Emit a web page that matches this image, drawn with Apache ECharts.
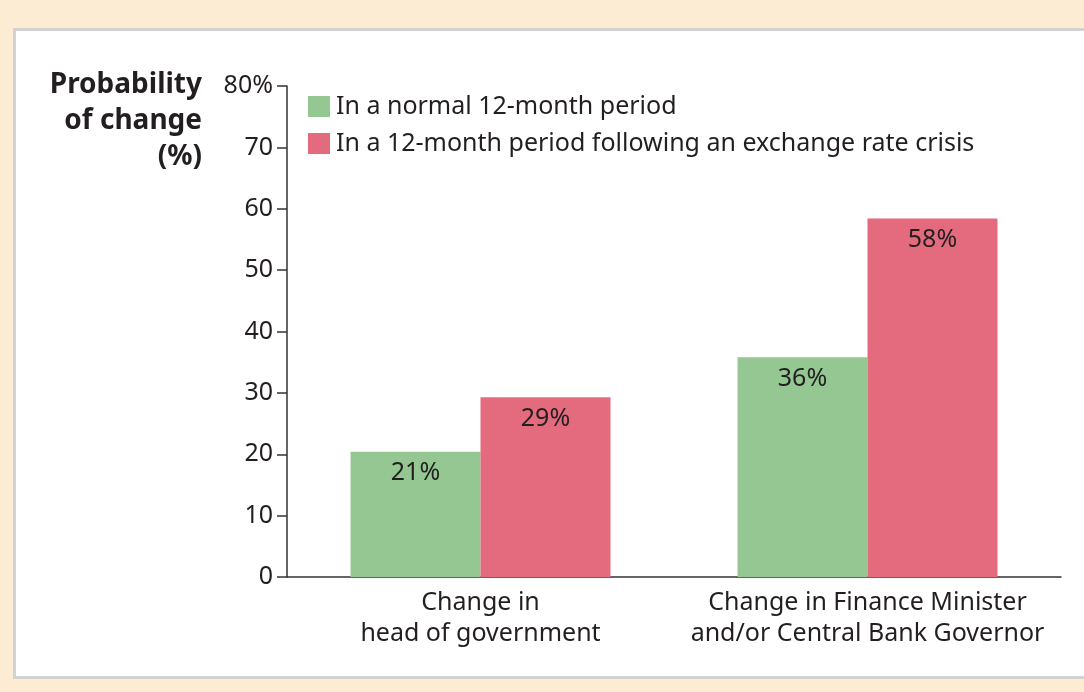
<html>
  <head>
    <meta charset="utf-8" />
    <title>Probability of change</title>
    <script src="https://cdn.jsdelivr.net/npm/echarts@6/dist/echarts.min.js"></script>
    <style>
      body { margin: 0; background: #fcecd3; }
      #panel { position: absolute; left: 13px; top: 28px; width: 1090px; height: 645px;
               background: #fff; border: 3px solid #d2d2d2; }
      #main { position: absolute; left: 0; top: 0; width: 1084px; height: 692px; }
    </style>
  </head>
  <body>
    <div id="panel"></div>
    <div id="main"></div>
    <script type="text/javascript">
      var categories = ['Change in\nhead of government', 'Change in Finance Minister\nand/or Central Bank Governor'];
      var seriesNames = ['In a normal 12-month period', 'In a 12-month period following an exchange rate crisis'];
      var normalValues = [20.4, 35.8];
      var crisisValues = [29.3, 58.4];
      var normalLabels = ['21%', '36%'];
      var crisisLabels = ['29%', '58%'];
      var yTicks = [0, 10, 20, 30, 40, 50, 60, 70, 80];

      var FONT = '"Noto Sans", sans-serif';
      var myChart = echarts.init(document.getElementById('main'));

      function barLabel(labels) {
        return {
          show: true,
          position: 'insideTop',
          distance: 9,
          color: '#231f20',
          fontSize: 25,
          fontFamily: FONT,
          formatter: function (p) { return labels[p.dataIndex]; }
        };
      }

      var option = {
        animation: false,
        textStyle: { fontFamily: FONT },
        grid: { left: 287, right: 23, top: 86, bottom: 115 },
        legend: {
          left: 303, top: 89, orient: 'vertical', icon: 'rect',
          itemWidth: 22, itemHeight: 21, itemGap: 12,
          textStyle: { fontSize: 25, color: '#231f20', fontFamily: FONT, padding: [0, 0, 0, 1] },
          data: seriesNames
        },
        graphic: [{
          type: 'text', x: 202, y: 67,
          style: {
            text: 'Probability\nof change\n(%)', fontSize: 28, fontWeight: 'bold',
            fontFamily: FONT, fill: '#231f20', align: 'right', lineHeight: 36
          }
        }],
        xAxis: {
          type: 'category',
          data: categories,
          axisLine: { lineStyle: { color: '#333', width: 1.5 } },
          axisTick: { show: false },
          axisLabel: { interval: 0, fontSize: 25, color: '#231f20', lineHeight: 31, margin: 10, fontFamily: FONT }
        },
        yAxis: {
          type: 'value', min: 0, max: 80, interval: 10,
          axisLine: { show: true, lineStyle: { color: '#333', width: 1.5 } },
          axisTick: { show: true, inside: false, length: 10, lineStyle: { color: '#333', width: 1.5 } },
          splitLine: { show: false },
          axisLabel: {
            fontSize: 25, color: '#231f20', margin: 14, fontFamily: FONT,
            formatter: function (v) { return v === yTicks[yTicks.length - 1] ? v + '%' : v; }
          }
        },
        series: [
          {
            name: seriesNames[0], type: 'bar', data: normalValues,
            barWidth: 130, barGap: '0%',
            itemStyle: { color: '#95c793' },
            label: barLabel(normalLabels)
          },
          {
            name: seriesNames[1], type: 'bar', data: crisisValues,
            barWidth: 130, barGap: '0%',
            itemStyle: { color: '#e46b7e' },
            label: barLabel(crisisLabels)
          }
        ]
      };

      myChart.setOption(option);
    </script>
  </body>
</html>
